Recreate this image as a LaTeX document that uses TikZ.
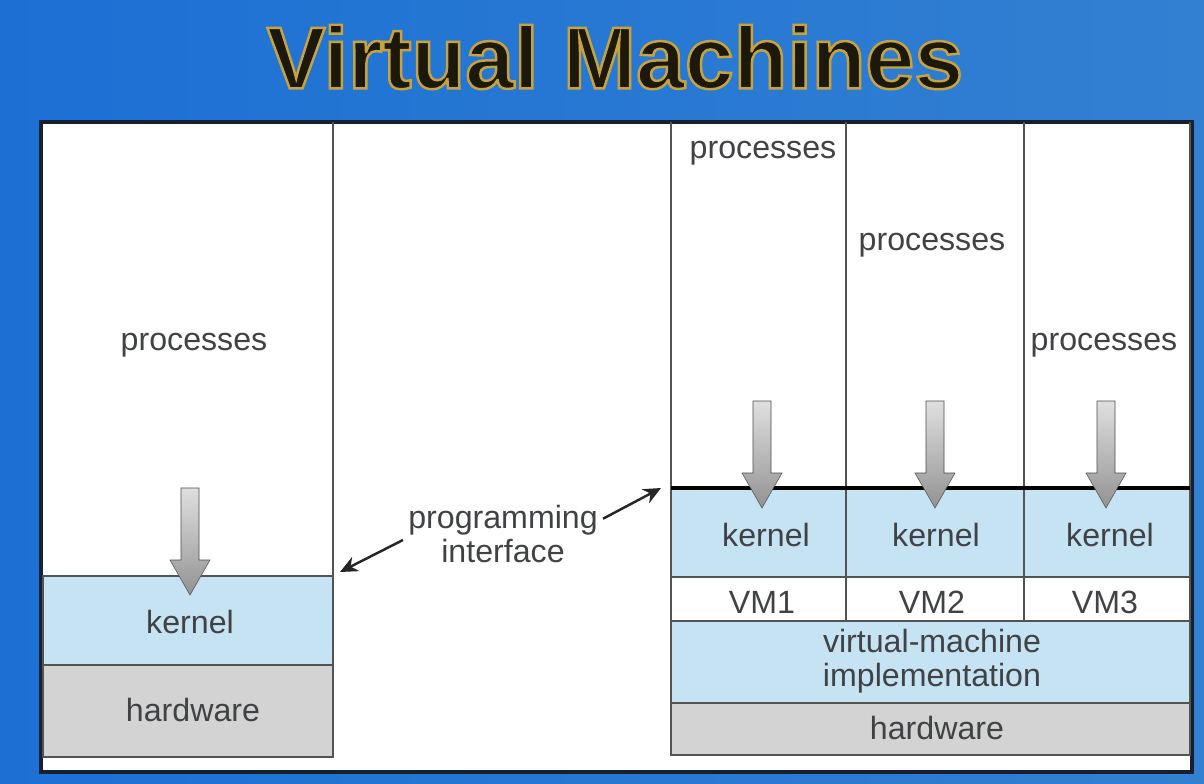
\documentclass[tikz,border=0pt]{standalone}
\usepackage{fontspec}
\setmainfont{Liberation Sans}
\usepackage{tikz}
\usetikzlibrary{positioning,calc,arrows.meta}
\definecolor{vm-sky}{RGB}{28,112,212}
\definecolor{vm-skylight}{RGB}{78,148,214}
\definecolor{vm-skyright}{RGB}{50,128,210}
\definecolor{vm-kernel}{RGB}{197,227,243}
\definecolor{vm-hw}{RGB}{211,211,211}
\definecolor{vm-text}{RGB}{64,66,68}
\definecolor{vm-border}{RGB}{22,32,48}
\definecolor{vm-ink}{RGB}{28,24,12}
% gold outline round the title letters (fill, then stroke)
\newcommand{\goldrim}[1]{\special{pdf:code 0.78 0.64 0.24 RG 1.4 w 2 Tr}#1\special{pdf:code 0 Tr}}

\begin{document}
\begin{tikzpicture}[x=0.02cm, y=-0.02cm,
    layer/.style={draw=gray!65!black, line width=1.1pt},
    lbl/.style={text=vm-text, font=\fontsize{18.3}{19.5}\selectfont, align=center, inner sep=0pt},
    titlefont/.style={font=\fontsize{50}{51}\selectfont\bfseries, inner sep=0pt},
    arrow/.style={-{Stealth[length=10pt,width=9pt]}, line width=1.4pt, black!85},
    downarrow/.pic={\shade[top color=gray!25, bottom color=gray!85, draw=gray!60!black, line width=0.3pt]
        (-9,0) -- (9,0) -- (9,72) -- (20,72) -- (0,107) -- (-20,72) -- (-9,72) -- cycle;}]

    \useasboundingbox (0,0) rectangle (1204,784);

    % Background and title
    \shade[left color=vm-sky, middle color=vm-skylight, right color=vm-skyright] (0,0) rectangle (1204,784);
    \node[titlefont, text=vm-ink] (title) at (615,57) {\goldrim{Virtual Machines}};

    % Panel
    \filldraw[fill=white, draw=vm-border, line width=1.8pt] (41,122) rectangle (1192,772);

    % Left: ordinary machine
    \filldraw[layer, fill=vm-kernel] (43,576) rectangle (333,665);
    \filldraw[layer, fill=vm-hw] (43,665) rectangle (333,757);
    \draw[layer] (333,122) -- (333,576);

    % Right: virtual machines
    \filldraw[layer, fill=vm-kernel] (671,488) rectangle (1190,577);
    \filldraw[layer, fill=white] (671,577) rectangle (1190,621);
    \filldraw[layer, fill=vm-kernel] (671,621) rectangle (1190,703);
    \filldraw[layer, fill=vm-hw] (671,703) rectangle (1190,755);
    \draw[layer] (671,122) -- (671,488);
    \draw[layer] (846,122) -- (846,621);
    \draw[layer] (1024,122) -- (1024,621);
    \draw[layer] (1190,122) -- (1190,488);
    \draw[line width=2.2pt, black] (671,488) -- (1190,488);

    % Calls into the kernel
    \pic at (190,488) {downarrow};
    \pic at (762,401) {downarrow};
    \pic at (935,401) {downarrow};
    \pic at (1106,401) {downarrow};

    % Labels
    \node[lbl] (proc0) at (194,345) {processes};
    \node[lbl] (proc1) at (763,153) {processes};
    \node[lbl] (proc2) at (932,245) {processes};
    \node[lbl] (proc3) at (1104,345) {processes};
    \node[lbl] (kern0) at (190,622) {kernel};
    \node[lbl] (kern1) at (766,535) {kernel};
    \node[lbl] (kern2) at (936,535) {kernel};
    \node[lbl] (kern3) at (1110,535) {kernel};
    \node[lbl] (vm1) at (762,602) {VM1};
    \node[lbl] (vm2) at (932,602) {VM2};
    \node[lbl] (vm3) at (1105,602) {VM3};
    \node[lbl] (vmi) at (932,661) {virtual-machine\\implementation};
    \node[lbl] (hw0) at (193,710) {hardware};
    \node[lbl] (hw1) at (937,728) {hardware};
    \node[lbl] (api) at (503,534) {programming\\interface};

    % Programming interface pointers
    \coordinate (apiL) at (340,572);
    \coordinate (apiR) at (661,488);
    \draw[arrow] ($(api.west)+(-5,6)$) -- (apiL);
    \draw[arrow] ($(api.north east)+(5,14)$) -- (apiR);
\end{tikzpicture}
\end{document}
